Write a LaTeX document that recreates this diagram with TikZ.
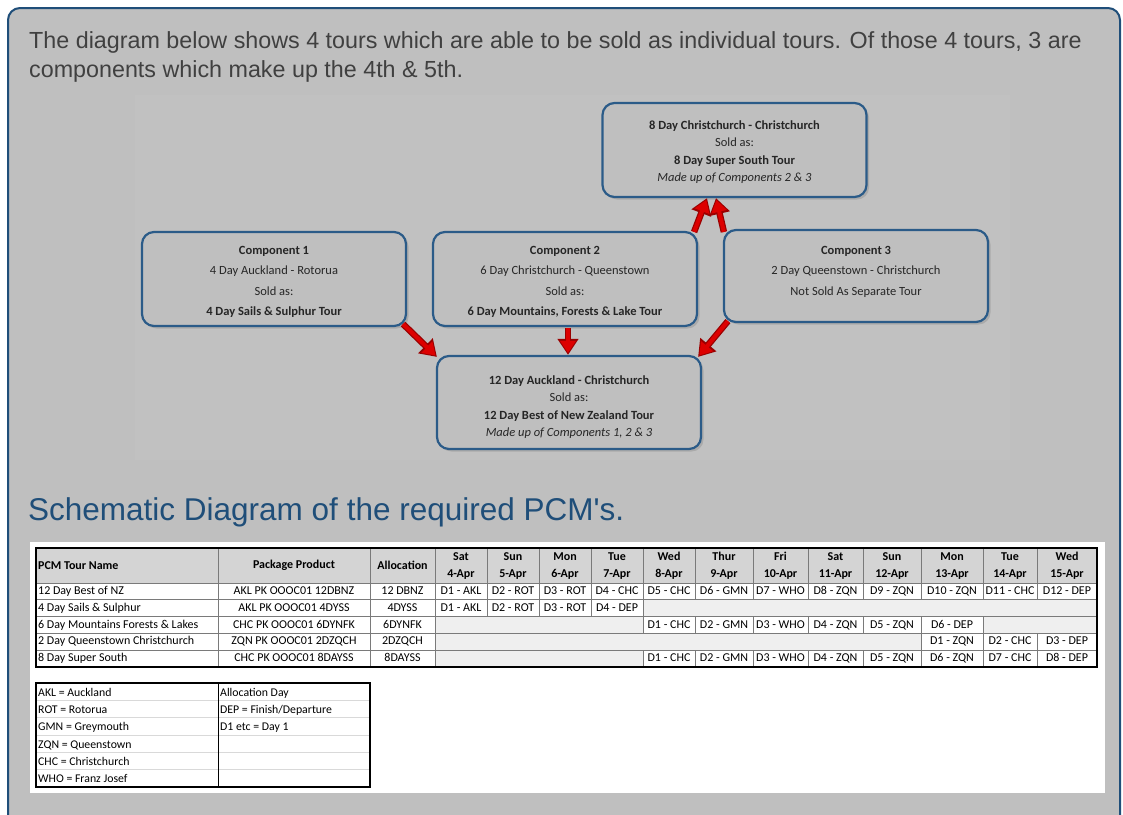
\documentclass[tikz,border=0pt]{standalone}
\usepackage{fontspec}
\setmainfont{Carlito}
\newfontfamily\arialf{Liberation Sans}
\usetikzlibrary{arrows.meta,shadows,calc}
\definecolor{panel}{HTML}{BFBFBF}
\definecolor{panelborder}{HTML}{1F4E79}
\definecolor{boxborder}{HTML}{2B5B88}
\definecolor{titleblue}{HTML}{1F4E79}
\definecolor{introgrey}{HTML}{404040}
\definecolor{arrowred}{HTML}{DD0000}
\definecolor{arrowdark}{HTML}{9A0000}
\definecolor{hdrfill}{HTML}{D4D4D4}
\definecolor{emptyfill}{HTML}{EFEFEF}
\definecolor{gridc}{HTML}{7A7A7A}
\definecolor{legline}{HTML}{D9D9D9}
\definecolor{boxtext}{HTML}{262626}
\tikzset{
  tourbox/.style={draw=boxborder, line width=2.2pt, rounded corners=12pt, fill=panel,
    drop shadow={shadow xshift=2.5pt, shadow yshift=-2.5pt, opacity=0.35},
    minimum width=264pt, minimum height=94pt, inner sep=0pt},
  boxtxt/.style={align=center, text=boxtext, inner sep=0pt},
  compfont/.style={font=\fontsize{12.5}{20.5}\selectfont},
  combofont/.style={font=\fontsize{12.5}{17.5}\selectfont},
  redarrowback/.style={draw=arrowdark, line width=6.5pt, -{Triangle[width=20pt,length=16pt]}},
  redarrow/.style={draw=arrowred, line width=4pt, shorten >=2pt, -{Triangle[width=15pt,length=12pt]}},
  gridline/.style={draw=gridc, line width=0.7pt},
  cellt/.style={inner sep=0pt, text height=8.5pt, text depth=2.5pt, font=\fontsize{12}{13}\selectfont},
  legt/.style={inner sep=0pt, text height=8.5pt, text depth=2.5pt, font=\fontsize{11.8}{13}\selectfont},
  hdrt/.style={inner sep=0pt, align=center, font=\bfseries\fontsize{12}{17}\selectfont},
}
\newcommand{\pcmcell}[6]{%
  \draw[gridline, fill=white] (#2,#4) rectangle (#3,#5);
  \node[cellt] (#1) at ({(#2+#3)/2},{(#4+#5)/2}) {#6};}
\newcommand{\pcmempty}[4]{%
  \draw[gridline, fill=emptyfill] (#1,#3) rectangle (#2,#4);}
\begin{document}
\begin{tikzpicture}[x=1pt,y=-1pt]
\useasboundingbox (0,0) rectangle (1123,814);
\fill[white] (0,0) rectangle (1123,814);
\draw[panelborder, line width=2pt, fill=panel, rounded corners=12pt] (8,8) rectangle (1120,834);
\fill[fill={rgb,255:red,193;green,193;blue,193}] (135,95) rectangle (1010,460);

% intro
\node[anchor=base west, inner sep=0pt, text=introgrey, font=\arialf\fontsize{23.3}{28}\selectfont] (intro1) at (29,48)
  {The diagram below shows 4 tours which are able to be sold as individual tours. Of those 4 tours, 3 are};
\node[anchor=base west, inner sep=0pt, text=introgrey, font=\arialf\fontsize{23.3}{28}\selectfont] (intro2) at (29,77)
  {components which make up the 4th \& 5th.};

% boxes
\node[tourbox] (sss) at (734.5,150) {};
\node[boxtxt, combofont] (ssst) at ($(sss)+(0,2)$)
  {\textbf{8 Day Christchurch - Christchurch}\\Sold as:\\\textbf{8 Day Super South Tour}\\\textit{Made up of Components 2 \& 3}};
\node[tourbox] (c1) at (274,279) {};
\node[boxtxt, compfont] (c1t) at ($(c1)+(0,3)$)
  {\textbf{Component 1}\\4 Day Auckland - Rotorua\\Sold as:\\\textbf{4 Day Sails \& Sulphur Tour}};
\node[tourbox] (c2) at (565,279) {};
\node[boxtxt, compfont] (c2t) at ($(c2)+(0,3)$)
  {\textbf{Component 2}\\6 Day Christchurch - Queenstown\\Sold as:\\\textbf{6 Day Mountains, Forests \& Lake Tour}};
\node[tourbox, minimum height=92pt] (c3) at (856,276) {};
\node[boxtxt, compfont] (c3t) at ($(c3)+(0,5)$)
  {\textbf{Component 3}\\2 Day Queenstown - Christchurch\\Not Sold As Separate Tour\\\mbox{}};
\node[tourbox, minimum height=93pt] (bnz) at (569,402.5) {};
\node[boxtxt, combofont] (bnzt) at ($(bnz)+(0,4.5)$)
  {\textbf{12 Day Auckland - Christchurch}\\Sold as:\\\textbf{12 Day Best of New Zealand Tour}\\\textit{Made up of Components 1, 2 \& 3}};

% arrows
\foreach \st in {redarrowback, redarrow} {
  \draw[\st] ($(c1.south east)+(-4,-3)$) -- ($(bnz.north west)+(1,2)$);
  \draw[\st] ($(c2.south)+(3,1)$) -- ($(bnz.north)+(-1,0)$);
  \draw[\st] ($(c3.south west)+(5,-2)$) -- ($(bnz.north east)+(-4,2)$);
  \draw[\st] ($(c2.north east)+(-4,1)$) -- ($(sss.south)+(-27.5,0)$);
  \draw[\st] ($(c3.north west)+(1,3)$) -- ($(sss.south)+(-18.5,0)$);
}

% title
\node[anchor=base west, inner sep=0pt, text=titleblue, font=\arialf\fontsize{31.5}{36}\selectfont] (title) at (28,520)
  {Schematic Diagram of the required PCM's.};

% white area
\fill[white] (30,542) rectangle (1105,793);

% table header
\fill[hdrfill] (36,548) rectangle (1097,583);
\foreach \xl/\xr in {36/218,218/370,370/435} {\draw[gridline] (\xl,548) rectangle (\xr,583);}
\node[hdrt, anchor=west] (hname) at (38,565.5) {PCM Tour Name};
\node[hdrt] (hpkg) at (294,565.5) {Package Product};
\node[hdrt] (halloc) at (402.5,565.5) {Allocation};
\foreach \xl/\xr/\dn/\dd [count=\i] in {435/487/Sat/4-Apr,487/539/Sun/5-Apr,539/591/Mon/6-Apr,591/643/Tue/7-Apr,
  643/695/Wed/8-Apr,695/753/Thur/9-Apr,753/808/Fri/10-Apr,808/863/Sat/11-Apr,863/921/Sun/12-Apr,
  921/983/Mon/13-Apr,983/1037/Tue/14-Apr,1037/1097/Wed/15-Apr} {
  \draw[gridline] (\xl,548) rectangle (\xr,583);
  \node[hdrt] (hd\i) at ({(\xl+\xr)/2},566) {\dn\\\dd};
}

% first three columns
\foreach \nm/\pk/\al [count=\r] in {12 Day Best of NZ/AKL PK OOOC01 12DBNZ/12 DBNZ,
  4 Day Sails \& Sulphur/AKL PK OOOC01 4DYSS/4DYSS,
  6 Day Mountains Forests \& Lakes/CHC PK OOOC01 6DYNFK/6DYNFK,
  2 Day Queenstown Christchurch/ZQN PK OOOC01 2DZQCH/2DZQCH,
  8 Day Super South/CHC PK OOOC01 8DAYSS/8DAYSS} {
  \pgfmathsetmacro{\yt}{583+(\r-1)*16.8}
  \pgfmathsetmacro{\yb}{583+\r*16.8}
  \draw[gridline, fill=white] (36,\yt) rectangle (218,\yb);
  \node[cellt, anchor=west] (n\r) at (38,{(\yt+\yb)/2}) {\nm};
  \pcmcell{p\r}{218}{370}{\yt}{\yb}{\pk}
  \pcmcell{a\r}{370}{435}{\yt}{\yb}{\al}
}

% row 1
\foreach \xl/\xr/\t [count=\i] in {435/487/D1 - AKL,487/539/D2 - ROT,539/591/D3 - ROT,591/643/D4 - CHC,
  643/695/D5 - CHC,695/753/D6 - GMN,753/808/D7 - WHO,808/863/D8 - ZQN,863/921/D9 - ZQN,
  921/983/D10 - ZQN,983/1037/D11 - CHC,1037/1097/D12 - DEP} {\pcmcell{ra\i}{\xl}{\xr}{583}{599.8}{\t}}
% row 2
\foreach \xl/\xr/\t [count=\i] in {435/487/D1 - AKL,487/539/D2 - ROT,539/591/D3 - ROT,591/643/D4 - DEP}
  {\pcmcell{rb\i}{\xl}{\xr}{599.8}{616.6}{\t}}
\pcmempty{643}{1097}{599.8}{616.6}
% row 3
\pcmempty{435}{643}{616.6}{633.4}
\foreach \xl/\xr/\t [count=\i] in {643/695/D1 - CHC,695/753/D2 - GMN,753/808/D3 - WHO,808/863/D4 - ZQN,
  863/921/D5 - ZQN,921/983/D6 - DEP} {\pcmcell{rc\i}{\xl}{\xr}{616.6}{633.4}{\t}}
\pcmempty{983}{1097}{616.6}{633.4}
% row 4
\pcmempty{435}{921}{633.4}{650.2}
\foreach \xl/\xr/\t [count=\i] in {921/983/D1 - ZQN,983/1037/D2 - CHC,1037/1097/D3 - DEP}
  {\pcmcell{rd\i}{\xl}{\xr}{633.4}{650.2}{\t}}
% row 5
\pcmempty{435}{643}{650.2}{667}
\foreach \xl/\xr/\t [count=\i] in {643/695/D1 - CHC,695/753/D2 - GMN,753/808/D3 - WHO,808/863/D4 - ZQN,
  863/921/D5 - ZQN,921/983/D6 - ZQN,983/1037/D7 - CHC,1037/1097/D8 - DEP} {\pcmcell{re\i}{\xl}{\xr}{650.2}{667}{\t}}
% outer border
\draw[black, line width=1.6pt] (36,548) rectangle (1097,667);

% legend
\fill[white] (36,683) rectangle (370,787);
\foreach \k in {1,...,5} {\draw[legline, line width=0.7pt] (36,{683+\k*17.33}) -- (370,{683+\k*17.33});}
\foreach \t [count=\k] in {AKL = Auckland, ROT = Rotorua, GMN = Greymouth, ZQN = Queenstown, CHC = Christchurch, WHO = Franz Josef}
  {\node[legt, anchor=west] (la\k) at (38,{684.5+(\k-0.5)*17.33}) {\t};}
\foreach \t [count=\k] in {Allocation Day, DEP = Finish/Departure, D1 etc = Day 1}
  {\node[legt, anchor=west] (lb\k) at (220,{684.5+(\k-0.5)*17.33}) {\t};}
\draw[black, line width=1pt] (218,683) -- (218,787);
\draw[black, line width=1.4pt] (36,683) rectangle (370,787);
\end{tikzpicture}
\end{document}
